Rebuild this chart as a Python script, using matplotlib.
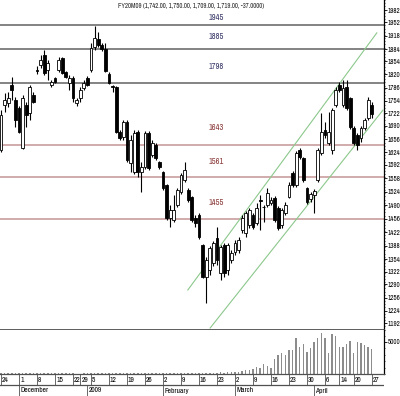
import numpy as np
import pandas as pd
import matplotlib
matplotlib.use("Agg")
import matplotlib.pyplot as plt
import matplotlib.font_manager as fm
from matplotlib.ticker import MultipleLocator

# narrow font like the original charting package
installed = {f.name for f in fm.fontManager.ttflist}
narrow = [n for n in ["Liberation Sans Narrow", "Archivo Narrow", "Barlow Condensed", "Asap Condensed"]
          if n in installed]
plt.rcParams["font.family"] = narrow[:1] + ["DejaVu Sans"]

# ----- trading calendar (German holidays removed) -----
holidays = pd.to_datetime(["2008-12-24", "2008-12-25", "2008-12-26", "2008-12-31",
                           "2009-01-01", "2009-04-10", "2009-04-13"])
dates = pd.bdate_range("2008-11-24", "2009-04-27")
dates = dates[~dates.isin(holidays)]

# ----- OHLC -----
opens = [1629, 1743, 1748, 1793, 1756, 1735, 1634, 1743, 1723, 1768,
         1831, 1844, 1869, 1831, 1793, 1811, 1831, 1862, 1826, 1799,
         1811, 1748, 1761, 1786, 1811, 1831, 1889, 1910, 1894, 1884,
         1821, 1790, 1788, 1675, 1662, 1700, 1597, 1574, 1675, 1574,
         1586, 1672, 1617, 1642, 1599, 1574, 1541, 1458, 1453, 1490,
         1523, 1554, 1528, 1511, 1458, 1465, 1389, 1309, 1326, 1344,
         1407, 1319, 1389, 1326, 1352, 1372, 1377, 1427, 1420, 1440,
         1465, 1445, 1503, 1485, 1490, 1495, 1508, 1483, 1440, 1470,
         1511, 1571, 1541, 1629, 1609, 1533, 1506, 1516, 1554, 1622,
         1680, 1647, 1629, 1743, 1793, 1743, 1788, 1761, 1685, 1667,
         1660, 1685, 1710, 1742]
highs = [1730, 1773, 1776, 1814, 1763, 1740, 1768, 1751, 1793, 1776,
         1841, 1869, 1882, 1857, 1806, 1814, 1864, 1864, 1829, 1819,
         1816, 1761, 1788, 1806, 1816, 1899, 1942, 1927, 1899, 1899,
         1826, 1793, 1790, 1680, 1705, 1705, 1667, 1680, 1680, 1599,
         1677, 1677, 1655, 1647, 1602, 1577, 1544, 1490, 1516, 1533,
         1572, 1599, 1533, 1513, 1465, 1470, 1392, 1360, 1387, 1400,
         1435, 1390, 1395, 1395, 1377, 1402, 1410, 1465, 1475, 1483,
         1470, 1495, 1516, 1490, 1533, 1511, 1513, 1488, 1483, 1498,
         1549, 1577, 1627, 1634, 1612, 1536, 1523, 1531, 1634, 1723,
         1700, 1725, 1735, 1788, 1801, 1806, 1806, 1763, 1690, 1672,
         1690, 1710, 1763, 1750]
lows = [1624, 1725, 1738, 1756, 1687, 1672, 1632, 1687, 1705, 1748,
        1821, 1836, 1819, 1806, 1788, 1799, 1826, 1821, 1811, 1781,
        1751, 1740, 1751, 1781, 1790, 1826, 1882, 1889, 1880, 1826,
        1796, 1776, 1672, 1655, 1655, 1600, 1574, 1570, 1561, 1523,
        1581, 1579, 1612, 1604, 1581, 1528, 1453, 1435, 1448, 1485,
        1518, 1549, 1498, 1448, 1435, 1405, 1305, 1243, 1314, 1337,
        1339, 1301, 1309, 1314, 1344, 1364, 1369, 1420, 1410, 1432,
        1430, 1440, 1427, 1448, 1485, 1490, 1448, 1427, 1432, 1465,
        1508, 1536, 1536, 1607, 1549, 1493, 1498, 1470, 1549, 1617,
        1660, 1642, 1619, 1738, 1776, 1738, 1730, 1682, 1642, 1629,
        1650, 1680, 1705, 1709]
closes = [1718, 1756, 1761, 1781, 1705, 1675, 1761, 1718, 1788, 1751,
          1829, 1857, 1824, 1849, 1801, 1801, 1857, 1824, 1814, 1811,
          1761, 1756, 1781, 1799, 1793, 1887, 1912, 1894, 1884, 1829,
          1799, 1788, 1675, 1660, 1700, 1604, 1655, 1672, 1574, 1586,
          1672, 1584, 1647, 1609, 1586, 1533, 1458, 1478, 1478, 1528,
          1566, 1579, 1503, 1453, 1445, 1410, 1309, 1352, 1382, 1395,
          1352, 1384, 1319, 1389, 1369, 1395, 1402, 1458, 1470, 1478,
          1435, 1483, 1500, 1485, 1521, 1503, 1453, 1432, 1478, 1490,
          1541, 1541, 1622, 1612, 1554, 1498, 1518, 1526, 1629, 1675,
          1667, 1675, 1730, 1781, 1781, 1786, 1735, 1687, 1647, 1642,
          1685, 1705, 1756, 1719]
volume = [120, 90, 150, 110, 130, 100, 140, 120, 160, 110,
          130, 150, 100, 120, 140, 110, 90, 130, 120, 100,
          80, 60, 70, 90, 110, 150, 130, 120, 140, 160,
          130, 150, 170, 140, 160, 150, 130, 170, 150, 140,
          160, 150, 170, 140, 160, 180, 200, 170, 150, 180,
          160, 170, 190, 200, 180, 210, 230, 200, 190, 220,
          210, 240, 230, 250, 260, 280, 300, 400, 550, 700,
          800, 1100, 900, 1500, 1250, 1000, 2300, 2900, 3300, 3000,
          3800, 3800, 5600, 4200, 4700, 3500, 4100, 5000, 5600, 6400,
          5600, 3300, 6200, 6000, 4200, 4200, 4700, 5200, 3300, 5000,
          4800, 4500, 4200, 3900]

title = "FY20M09 (1,742.00, 1,750.00, 1,709.00, 1,719.00, -37.0000)"

# horizontal levels and how far above the line their label sits (points)
levels_upper = [1945, 1885, 1798]
levels_lower = [1643, 1561, 1455]
label_offsets = {1945: 5.5, 1885: 8.5, 1798: 12, 1643: 12, 1561: 11, 1455: 12}

# trend channel (bar index, price)
chan_up_x, chan_up_y = [51.9, 104.4], [1276, 1925]
chan_lo_x, chan_lo_y = [58.1, 106.1], [1180, 1730]

price_ticks = [1982, 1952, 1918, 1884, 1854, 1820, 1786, 1754, 1722, 1690, 1656, 1624,
               1592, 1558, 1524, 1490, 1456, 1422, 1388, 1354, 1322, 1290, 1256, 1224, 1192]

week_ticks = ["2008-11-24", "2008-12-01", "2008-12-08", "2008-12-15", "2008-12-22",
              "2008-12-29", "2009-01-05", "2009-01-12", "2009-01-19", "2009-01-26",
              "2009-02-02", "2009-02-09", "2009-02-16", "2009-02-23", "2009-03-02",
              "2009-03-09", "2009-03-16", "2009-03-23", "2009-03-30", "2009-04-06",
              "2009-04-14", "2009-04-20", "2009-04-27"]
month_starts = ["2008-12-01", "2009-01-02", "2009-02-02", "2009-03-02", "2009-04-01"]
month_labels = ["December", "2009", "February", "March", "April"]

# ----- layout (pixel based) -----
W, H = 400, 396
fig = plt.figure(figsize=(4.0, 3.96), dpi=100)
ax = fig.add_axes([0, 1 - 330 / H, 384 / W, 330 / H])
axv = fig.add_axes([0, 1 - 374 / H, 384 / W, 44 / H])
axd = fig.add_axes([0, 0, 384 / W, 22 / H])

xlim = (-0.28, 106.4)
idx = np.arange(len(dates))
axis_grey = "#505050"

# candles
o, h, l, c = map(np.array, (opens, highs, lows, closes))
ax.vlines(idx, l, h, color="black", lw=0.8, zorder=3)
up = c >= o
body = np.maximum(np.abs(c - o), 1.5)
ax.bar(idx[up], body[up], bottom=np.minimum(o, c)[up], width=0.75,
       color="white", edgecolor="black", lw=0.6, zorder=4)
ax.bar(idx[~up], body[~up], bottom=np.minimum(o, c)[~up], width=0.75,
       color="black", edgecolor="black", lw=0.6, zorder=4)

for v in levels_upper:
    ax.axhline(v, color="#6e6e6e", lw=1.2, zorder=1)
    ax.annotate(str(v), (59.9, v), xytext=(0, label_offsets[v]), textcoords="offset points",
                ha="center", va="center", fontsize=6, color="#3a3a6a")
for v in levels_lower:
    ax.axhline(v, color="#c49494", lw=1.1, zorder=1)
    ax.annotate(str(v), (59.9, v), xytext=(0, label_offsets[v]), textcoords="offset points",
                ha="center", va="center", fontsize=6, color="#8b3a3a")

ax.plot(chan_up_x, chan_up_y, color="#8cc88c", lw=0.8, zorder=2)
ax.plot(chan_lo_x, chan_lo_y, color="#8cc88c", lw=0.8, zorder=2)

ax.set_xlim(*xlim)
ax.set_ylim(1175, 2008)
ax.yaxis.tick_right()
ax.set_yticks(price_ticks)
ax.set_yticklabels([str(t) for t in price_ticks])
ax.yaxis.set_minor_locator(MultipleLocator(8))
ax.tick_params(axis="y", which="major", labelsize=5, length=2, pad=0.8, width=0.6)
ax.tick_params(axis="y", which="minor", length=1, width=0.5)
ax.set_xticks([])
for s in ("top", "left"):
    ax.spines[s].set_visible(False)
ax.spines["bottom"].set_color(axis_grey)
ax.spines["bottom"].set_linewidth(1.3)
ax.spines["right"].set_linewidth(0.9)
ax.text(191 / 384, 1 - 6 / 330, title, transform=ax.transAxes, ha="center", va="center",
        fontsize=4.8, color="#222222")

# volume
axv.bar(idx, volume, width=0.4, color="#8c8c8c")
axv.set_xlim(*xlim)
axv.set_ylim(0, 6875)
axv.yaxis.tick_right()
axv.set_yticks([5000])
axv.set_yticklabels(["5000"])
axv.yaxis.set_minor_locator(MultipleLocator(1000))
axv.tick_params(axis="y", which="major", labelsize=5, length=2, pad=0.8, width=0.6)
axv.tick_params(axis="y", which="minor", length=1, width=0.5)
axv.set_xticks([])
for s in ("top", "left"):
    axv.spines[s].set_visible(False)
axv.spines["bottom"].set_color(axis_grey)
axv.spines["bottom"].set_linewidth(0.9)
axv.spines["right"].set_linewidth(0.9)

# date axis
axd.set_xlim(*xlim)
axd.set_ylim(0, 1)
axd.axis("off")
axd.axhline(0.5, color=axis_grey, lw=0.9)
for d in week_ticks:
    p = dates.get_loc(pd.Timestamp(d))
    axd.vlines(p, 0.5, 1, color=axis_grey, lw=0.6)
    axd.text(p + 0.3, 0.75, str(pd.Timestamp(d).day), fontsize=5.3, va="center", ha="left")
for d, lab in zip(month_starts, month_labels):
    p = dates.get_loc(pd.Timestamp(d))
    axd.vlines(p, 0, 0.5, color=axis_grey, lw=0.6)
    axd.text(p + 0.3, 0.25, lab, fontsize=5.3, va="center", ha="left")

fig.savefig("out.png", dpi=100, facecolor="white")
